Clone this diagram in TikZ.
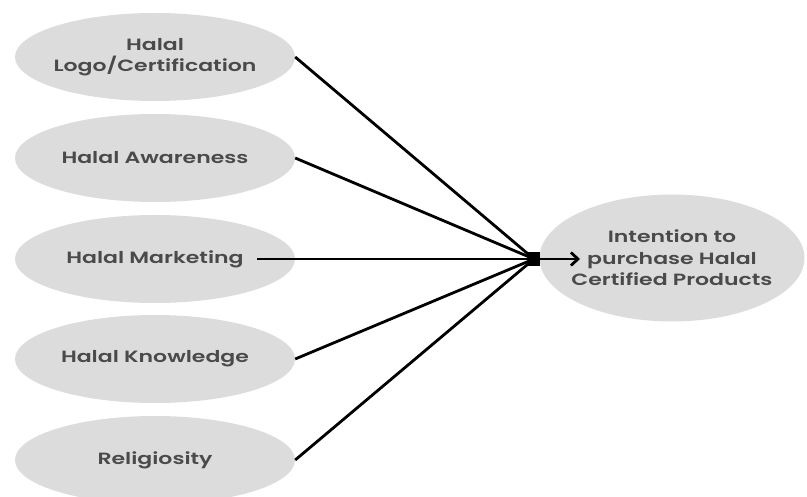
\documentclass[tikz,border=0pt]{standalone}
\usepackage{fontspec}
\setmainfont{Open Sans}
\newfontfamily\ovalfont[FakeStretch=1.35]{Poppins SemiBold}
\usetikzlibrary{arrows.meta, shapes.geometric}
\definecolor{ovalgray}{HTML}{DCDCDC}
\definecolor{textgray}{HTML}{4A4A4A}
\begin{document}
\begin{tikzpicture}[x=1pt, y=-1pt]
\useasboundingbox (0,0) rectangle (807,497);
\tikzset{oval/.style={ellipse, fill=ovalgray, minimum width=280, minimum height=88, inner xsep=-40pt, inner ysep=-12pt, align=center, text=textgray, font=\ovalfont\fontsize{16.3}{21.5}\selectfont}}
\node[oval] (hal0) at (155,57){Halal\\Logo/Certification};
\node[oval] (hal1) at (155,158){Halal Awareness};
\node[oval] (hal2) at (155,259){Halal Marketing};
\node[oval] (hal3) at (155,359){Halal Knowledge};
\node[oval] (hal4) at (155,460){Religiosity};
\node[oval, minimum width=265, minimum height=127] (intent) at (672,258){Intention to\\purchase Halal\\Certified Products};
\node[rectangle, fill, minimum width=12, minimum height=14, inner sep=0pt] (hub) at (534,259){};
\coordinate (mk) at (257,259);
\coordinate (tip) at (580,259);
\draw[line width=2.8pt](hal0.east) -- (hub.center);
\draw[line width=2.8pt](hal1.east) -- (hub.center);
\draw[line width=2.8pt](mk) -- (hub.center);
\draw[line width=2.8pt](hal3.east) -- (hub.center);
\draw[line width=2.8pt](hal4.east) -- (hub.center);
\draw[line width=2.8pt, -{Straight Barb[length=7pt, width=13pt]}](hub) -- (tip);
\end{tikzpicture}
\end{document}
